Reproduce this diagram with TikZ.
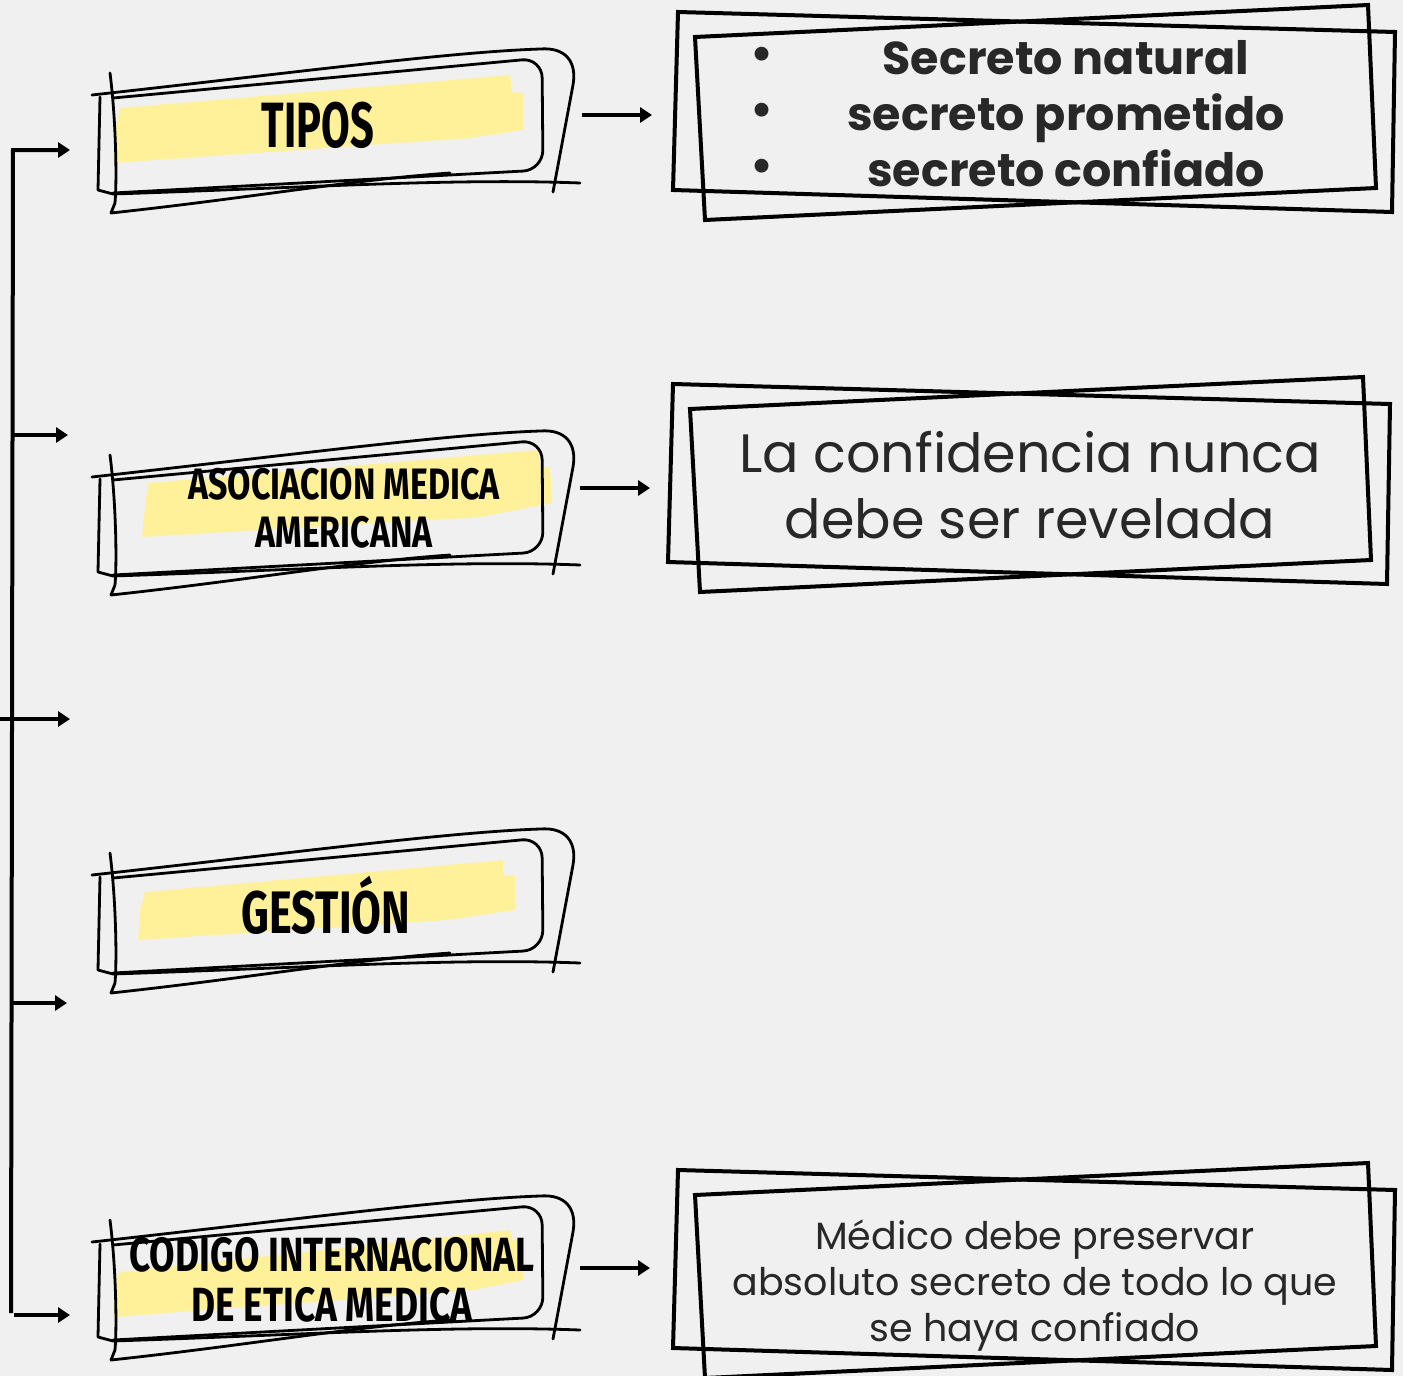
\documentclass[tikz,border=0pt]{standalone}
\usepackage{fontspec}
\usetikzlibrary{positioning,arrows.meta}

\newfontfamily\handfont[FakeStretch=0.65]{Fira Sans}
\newfontfamily\handmid[FakeStretch=0.72]{Fira Sans}
\newfontfamily\handwide[FakeStretch=0.77]{Fira Sans}
\newfontfamily\notefont{Poppins}
\definecolor{paper}{RGB}{240,240,240}
\definecolor{marker}{RGB}{255,241,153}
\definecolor{ink}{RGB}{40,40,40}

\tikzset{
  stroke/.style={line width=1.4pt, line cap=round, line join=round},
  frame/.style={line width=2pt},
  link/.style={line width=2pt, -{Triangle[length=6pt,width=7.5pt]}},
  tag/.style={align=center, inner sep=0pt},
  note/.style={text=ink, align=center, inner sep=0pt},
}

% hand drawn frame round a heading, shifted down by #1
\newcommand{\sketchframe}[1]{%
  \begin{scope}[shift={(0,#1)}, stroke]
    \draw (110,73) .. controls (116,120) and (117,180) .. (115,203) -- (111,213)
          .. controls (250,198) and (350,180) .. (450,173);
    \draw (100,97) -- (98,190) -- (113,194) .. controls (300,188) and (450,178) .. (580,183);
    \draw[rounded corners=10] (113,98) -- (542,58) -- (543,170) -- (113,193);
    \draw (92,95) .. controls (300,72) and (450,52) .. (540,49)
          .. controls (566,47) and (577,62) .. (573,85) -- (553,192);
  \end{scope}}

% two crossed rectangles round a note, shifted by (#1,#2)
\newcommand{\noteframe}[2]{%
  \begin{scope}[shift={(#1,#2)}, frame]
    \draw (678,12) -- (1395,32) -- (1392,212) -- (673,190) -- cycle;
    \draw (695,37) -- (1368,5) -- (1376,188) -- (705,220) -- cycle;
  \end{scope}}

\begin{document}
\begin{tikzpicture}[x=0.5pt, y=-0.5pt]
\useasboundingbox (0,0) rectangle (1403,1376);
\fill[paper] (0,0) rectangle (1403,1376);

% highlighter strokes
\fill[marker] (120,108) -- (510,75) -- (512,92) -- (523,93) -- (523,130) -- (470,138) -- (113,163) -- (115,130) -- cycle;
\fill[marker] (148,483) -- (538,450) -- (540,467) -- (550,467) -- (552,503) -- (480,517) -- (142,537) -- (145,507) -- cycle;
\fill[marker] (145,892) -- (503,860) -- (503,875) -- (515,876) -- (515,910) -- (447,920) -- (138,940) -- (140,910) -- cycle;
\fill[marker] (120,1272) -- (510,1230) -- (512,1240) -- (523,1240) -- (523,1280) -- (473,1290) -- (113,1317) -- (115,1280) -- cycle;

\sketchframe{0}
\sketchframe{382}
\sketchframe{780}
\sketchframe{1147}

\node [tag, font=\handfont\bfseries\fontsize{32}{38}\selectfont] (tipos) at (318,125) {TIPOS};
\node [tag, font=\handwide\bfseries\fontsize{22}{24}\selectfont] (ama) at (344,508) {ASOCIACION MEDICA\\AMERICANA};
\node [tag, font=\handmid\bfseries\fontsize{30}{36}\selectfont] (gestion) at (326,905) {GESTIÓN};
\node [tag, font=\handwide\bfseries\fontsize{24}{25}\selectfont] (codigo) at (332,1280) {CODIGO INTERNACIONAL\\DE ETICA MEDICA};

\noteframe{0}{0}
\noteframe{-5}{372}
\noteframe{0}{1158}

\node [note, font=\notefont\bfseries\fontsize{23}{28}\selectfont] (bullets) at (762,114) {•\\•\\•};
\node [note, font=\notefont\bfseries\fontsize{23}{28}\selectfont] (tiposnote) at (1066,114) {Secreto natural\\secreto prometido\\secreto confiado};
\node [note, font=\notefont\fontsize{27}{33}\selectfont] (amanote) at (1030,485) {La confidencia nunca\\debe ser revelada};
\node [note, font=\notefont\fontsize{19}{23}\selectfont] (codigonote) at (1035,1286) {Médico debe preservar\\absoluto secreto de todo lo que\\se haya confiado};

% spine on the left
\coordinate (spinetop) at (13,150);
\coordinate (spinebot) at (11,1313);
\coordinate (feed) at (0,719);
\coordinate (out2) at (12,435);
\coordinate (out4) at (11,1003);
\coordinate (out5) at (14,1315);
\coordinate (in1) at (70,150);
\coordinate (in2) at (68,435);
\coordinate (in3) at (70,719);
\coordinate (in4) at (67,1003);
\coordinate (in5) at (70,1315);
\draw [link] (spinebot) -- (spinetop) -- (in1);
\draw [link] (out2) -- (in2);
\draw [link] (feed) -- (in3);
\draw [link] (out4) -- (in4);
\draw [link] (out5) -- (in5);

% headings to notes
\coordinate (tipos-out) at (582,115);
\coordinate (tipos-in) at (652,115);
\coordinate (ama-out) at (580,488);
\coordinate (ama-in) at (650,488);
\coordinate (codigo-out) at (580,1268);
\coordinate (codigo-in) at (650,1268);
\draw [link] (tipos-out) -- (tipos-in);
\draw [link] (ama-out) -- (ama-in);
\draw [link] (codigo-out) -- (codigo-in);
\end{tikzpicture}
\end{document}
